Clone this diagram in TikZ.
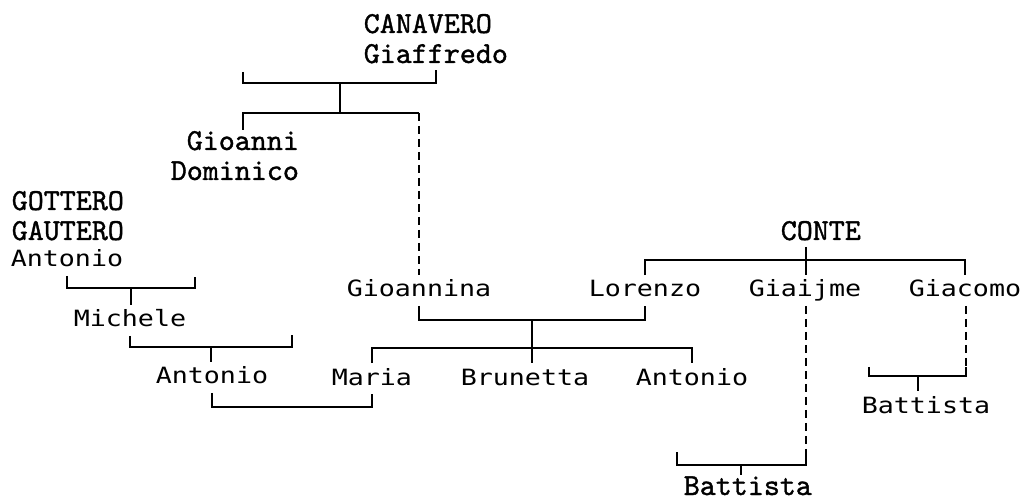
\documentclass[tikz,border=0pt]{standalone}
\usepackage{fontspec}
\newfontfamily\snf[FakeStretch=1.19]{DejaVu Sans Mono}
\newfontfamily\srf{lmmono10-regular.otf}[FakeBold=1.2]

\begin{document}
\begin{tikzpicture}[x=1pt,y=-1pt,line width=1.6pt,
  surname/.style={anchor=base west,inner sep=0pt,text height=19pt,text depth=6pt,
    font=\srf\fontsize{30.5}{31}\selectfont},
  given/.style={anchor=base west,inner sep=0pt,text height=21pt,text depth=8pt,
    font=\snf\fontsize{22.4}{24}\selectfont},
  unsure/.style={dash pattern=on 8pt off 5pt}]
\useasboundingbox (0,0) rectangle (1025,502);

\node[surname] (canavero) at (363,33) {CANAVERO};
\node[surname] (giaffredo) at (363,63) {Giaffredo};
\node[surname] (gioanni) at (186,150) {Gioanni};
\node[surname] (dominico) at (170,180) {Dominico};
\node[surname] (gottero) at (11,210) {GOTTERO};
\node[surname] (gautero) at (11,240) {GAUTERO};
\node[given] (antonioA) at (10,267) {Antonio};
\node[given] (michele) at (73,327) {Michele};
\node[given] (antonioB) at (155,384) {Antonio};
\node[given] (gioannina) at (346,297) {Gioannina};
\node[given] (lorenzo) at (588,297) {Lorenzo};
\node[surname] (conte) at (780,240) {CONTE};
\node[given] (giaijme) at (748,297) {Giaijme};
\node[given] (giacomo) at (908,297) {Giacomo};
\node[given] (maria) at (331,385) {Maria};
\node[given] (brunetta) at (460,385) {Brunetta};
\node[given] (antonioC) at (635,385) {Antonio};
\node[given] (battistaA) at (861,413) {Battista};
\node[surname,text depth=0pt] (battistaB) at (683,495) {Battista};

% CANAVERO
\coordinate (canSp) at (243,72);
\coordinate (canM) at (340,83);
\coordinate (canK) at (340,113);
\draw (canSp) |- (canM) -| (giaffredo.south);
\draw (canM) -- (canK) -| (gioanni.north);
\draw (canK) -- (canK -| gioannina.north);
\draw[unsure] (canK -| gioannina.north) -- (gioannina.north);

% GOTTERO
\coordinate (gotM) at (131,288);
\coordinate (gotSp) at (195,277);
\draw (antonioA.south) |- (gotM) -| (gotSp);
\draw (gotM) -- (gotM |- michele.north);

% Michele
\coordinate (micM) at (211,347);
\coordinate (micSp) at (292,335);
\draw (michele.south) |- (micM) -| (micSp);
\draw (micM) -- (micM |- antonioB.north);

% Antonio x Maria
\coordinate (amM) at (290,407);
\draw (antonioB.south) |- (amM) -| (maria.south);

% Gioannina x Lorenzo
\coordinate (glM) at (532,320);
\coordinate (glK) at (532,348);
\draw (gioannina.south) |- (glM) -| (lorenzo.south);
\draw (glM) -- (glK);
\draw (maria.north) |- (glK) -| (antonioC.north);
\draw (glK) -- (glK |- brunetta.north);

% CONTE
\coordinate (conK) at (806,260);
\draw (conK |- conte.south) -- (conK);
\draw (lorenzo.north) |- (conK) -| (giacomo.north);
\draw (conK) -- (conK |- giaijme.north);

% Giaijme
\coordinate (giaB) at (806,452);
\coordinate (batM) at (741,465);
\coordinate (batSp) at (677,452);
\draw[unsure] (giaijme.south -| giaB) -- (giaB);
\draw (batSp) |- (batM) -| (giaB);
\draw (batM) -- (batM |- battistaB.north);

% Giacomo
\coordinate (gcoB) at (966,367);
\coordinate (gcoM) at (918,376);
\coordinate (gcoSp) at (869,367);
\draw[unsure] (giacomo.south -| gcoB) -- (gcoB);
\draw (gcoSp) |- (gcoM) -| (gcoB);
\draw (gcoM) -- (gcoM |- battistaA.north);
\end{tikzpicture}
\end{document}
